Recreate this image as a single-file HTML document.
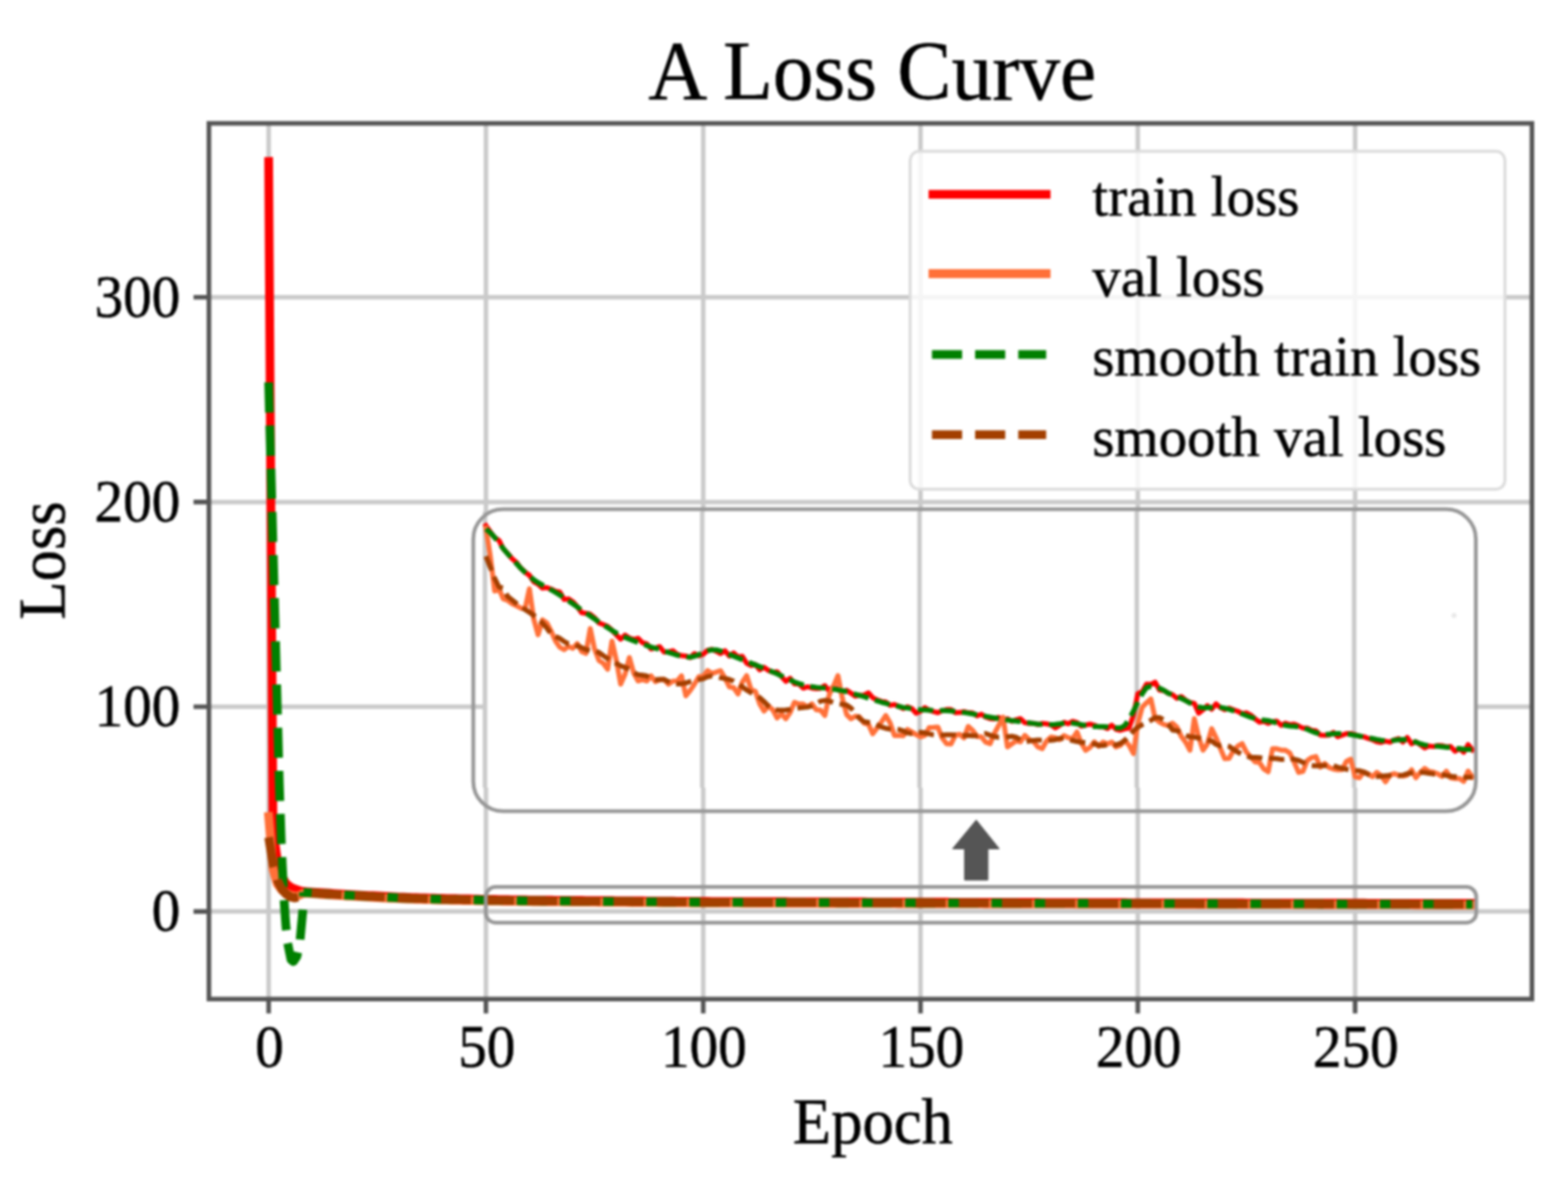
<!DOCTYPE html>
<html><head><meta charset="utf-8"><title>A Loss Curve</title>
<style>html,body{margin:0;padding:0;background:#fff;width:1579px;height:1197px;overflow:hidden}svg{display:block;filter:blur(1.3px)}</style>
</head><body>
<svg width="1579" height="1197" viewBox="0 0 1579 1197"><defs><clipPath id="ax"><rect x="210.4" y="124.2" width="1332.3" height="881.5999999999999"/></clipPath></defs><rect width="1579" height="1197" fill="#fff"/><path d="M270.55,124.2 V1005.8 M489.36,124.2 V1005.8 M708.17,124.2 V1005.8 M926.98,124.2 V1005.8 M1145.79,124.2 V1005.8 M1364.60,124.2 V1005.8 M210.4,917.60 H1542.7 M210.4,711.50 H1542.7 M210.4,505.40 H1542.7 M210.4,299.30 H1542.7" stroke="#cacaca" stroke-width="4.5" fill="none"/><g clip-path="url(#ax)" fill="none" stroke-linejoin="round"><path d="M270.55,162.50 L274.93,836.00 L279.30,866.00 L283.68,882.00 L288.05,889.50 L292.43,893.00 L296.81,895.00 L301.18,896.50 L305.56,897.50 L309.94,897.80 L314.31,898.09 L318.69,898.38 L323.06,898.67 L327.44,898.96 L331.82,899.24 L336.19,899.53 L340.57,899.82 L344.95,900.11 L349.32,900.40 L353.70,900.63 L358.07,900.85 L362.45,901.08 L366.83,901.30 L371.20,901.53 L375.58,901.75 L379.96,901.98 L384.33,902.20 L388.71,902.43 L393.08,902.65 L397.46,902.88 L401.84,903.10 L406.21,903.24 L410.59,903.39 L414.96,903.53 L419.34,903.68 L423.72,903.82 L428.09,903.97 L432.47,904.11 L436.85,904.26 L441.22,904.40 L445.60,904.49 L449.97,904.58 L454.35,904.67 L458.73,904.76 L463.10,904.84 L467.48,904.93 L471.86,905.02 L476.23,905.11 L480.61,905.20 L484.98,905.28 L489.36,905.35 L493.74,905.43 L498.11,905.50 L502.49,905.58 L506.86,905.65 L511.24,905.73 L515.62,905.80 L519.99,905.88 L524.37,905.95 L528.75,906.02 L533.12,906.10 L537.50,906.13 L541.87,906.17 L546.25,906.21 L550.63,906.24 L555.00,906.27 L559.38,906.31 L563.76,906.35 L568.13,906.38 L572.51,906.41 L576.88,906.45 L581.26,906.49 L585.64,906.52 L590.01,906.56 L594.39,906.59 L598.76,906.62 L603.14,906.66 L607.52,906.70 L611.89,906.73 L616.27,906.76 L620.65,906.80 L625.02,906.84 L629.40,906.87 L633.77,906.90 L638.15,906.94 L642.53,906.98 L646.90,907.01 L651.28,907.04 L655.66,907.08 L660.03,907.12 L664.41,907.15 L668.78,907.19 L673.16,907.22 L677.54,907.25 L681.91,907.29 L686.29,907.33 L690.67,907.36 L695.04,907.39 L699.42,907.43 L703.79,907.47 L708.17,907.50 L712.55,907.51 L716.92,907.53 L721.30,907.54 L725.67,907.56 L730.05,907.57 L734.43,907.58 L738.80,907.60 L743.18,907.61 L747.56,907.63 L751.93,907.64 L756.31,907.65 L760.68,907.67 L765.06,907.68 L769.44,907.70 L773.81,907.71 L778.19,907.72 L782.57,907.74 L786.94,907.75 L791.32,907.77 L795.69,907.78 L800.07,907.79 L804.45,907.81 L808.82,907.82 L813.20,907.84 L817.58,907.85 L821.95,907.86 L826.33,907.88 L830.70,907.89 L835.08,907.91 L839.46,907.92 L843.83,907.93 L848.21,907.95 L852.58,907.96 L856.96,907.98 L861.34,907.99 L865.71,908.00 L870.09,908.02 L874.47,908.03 L878.84,908.05 L883.22,908.06 L887.59,908.07 L891.97,908.09 L896.35,908.10 L900.72,908.12 L905.10,908.13 L909.48,908.14 L913.85,908.16 L918.23,908.17 L922.60,908.19 L926.98,908.20 L931.36,908.21 L935.73,908.22 L940.11,908.24 L944.48,908.25 L948.86,908.26 L953.24,908.27 L957.61,908.28 L961.99,908.30 L966.37,908.31 L970.74,908.32 L975.12,908.33 L979.49,908.34 L983.87,908.36 L988.25,908.37 L992.62,908.38 L997.00,908.39 L1001.38,908.40 L1005.75,908.42 L1010.13,908.43 L1014.50,908.44 L1018.88,908.45 L1023.26,908.46 L1027.63,908.48 L1032.01,908.49 L1036.38,908.50 L1040.76,908.51 L1045.14,908.52 L1049.51,908.54 L1053.89,908.55 L1058.27,908.56 L1062.64,908.57 L1067.02,908.58 L1071.39,908.60 L1075.77,908.61 L1080.15,908.62 L1084.52,908.63 L1088.90,908.64 L1093.28,908.66 L1097.65,908.67 L1102.03,908.68 L1106.40,908.69 L1110.78,908.70 L1115.16,908.72 L1119.53,908.73 L1123.91,908.74 L1128.29,908.75 L1132.66,908.76 L1137.04,908.78 L1141.41,908.79 L1145.79,908.80 L1150.17,908.81 L1154.54,908.82 L1158.92,908.83 L1163.29,908.84 L1167.67,908.85 L1172.05,908.85 L1176.42,908.86 L1180.80,908.87 L1185.18,908.88 L1189.55,908.89 L1193.93,908.90 L1198.30,908.91 L1202.68,908.92 L1207.06,908.93 L1211.43,908.94 L1215.81,908.95 L1220.19,908.95 L1224.56,908.96 L1228.94,908.97 L1233.31,908.98 L1237.69,908.99 L1242.07,909.00 L1246.44,909.01 L1250.82,909.02 L1255.19,909.03 L1259.57,909.04 L1263.95,909.05 L1268.32,909.05 L1272.70,909.06 L1277.08,909.07 L1281.45,909.08 L1285.83,909.09 L1290.20,909.10 L1294.58,909.11 L1298.96,909.12 L1303.33,909.13 L1307.71,909.14 L1312.09,909.15 L1316.46,909.15 L1320.84,909.16 L1325.21,909.17 L1329.59,909.18 L1333.97,909.19 L1338.34,909.20 L1342.72,909.21 L1347.10,909.22 L1351.47,909.23 L1355.85,909.24 L1360.22,909.25 L1364.60,909.25 L1368.98,909.26 L1373.35,909.27 L1377.73,909.28 L1382.10,909.29 L1386.48,909.30 L1390.86,909.31 L1395.23,909.32 L1399.61,909.33 L1403.99,909.34 L1408.36,909.35 L1412.74,909.35 L1417.11,909.36 L1421.49,909.37 L1425.87,909.38 L1430.24,909.39 L1434.62,909.40 L1439.00,909.41 L1443.37,909.42 L1447.75,909.43 L1452.12,909.44 L1456.50,909.45 L1460.88,909.45 L1465.25,909.46 L1469.63,909.47 L1474.00,909.48 L1478.38,909.49 L1482.76,909.50" stroke="#ff0000" stroke-width="8.8" stroke-linecap="square"/><path d="M270.55,822.00 L274.93,875.00 L279.30,890.00 L283.68,896.00 L288.05,899.00 L292.43,901.00 L296.81,902.00 L301.18,901.50 L305.56,899.10 L309.94,899.40 L314.31,899.69 L318.69,899.98 L323.06,900.27 L327.44,900.56 L331.82,900.84 L336.19,901.13 L340.57,901.42 L344.95,901.71 L349.32,902.00 L353.70,902.23 L358.07,902.45 L362.45,902.67 L366.83,902.90 L371.20,903.12 L375.58,903.35 L379.96,903.57 L384.33,903.80 L388.71,904.02 L393.08,904.25 L397.46,904.47 L401.84,904.70 L406.21,904.84 L410.59,904.99 L414.96,905.13 L419.34,905.28 L423.72,905.42 L428.09,905.57 L432.47,905.71 L436.85,905.86 L441.22,906.00 L445.60,906.09 L449.97,906.18 L454.35,906.27 L458.73,906.36 L463.10,906.44 L467.48,906.53 L471.86,906.62 L476.23,906.71 L480.61,906.80 L484.98,906.88 L489.36,906.95 L493.74,907.02 L498.11,907.10 L502.49,907.17 L506.86,907.25 L511.24,907.32 L515.62,907.40 L519.99,907.47 L524.37,907.55 L528.75,907.62 L533.12,907.70 L537.50,907.73 L541.87,907.77 L546.25,907.80 L550.63,907.84 L555.00,907.87 L559.38,907.91 L563.76,907.94 L568.13,907.98 L572.51,908.01 L576.88,908.05 L581.26,908.08 L585.64,908.12 L590.01,908.15 L594.39,908.19 L598.76,908.22 L603.14,908.26 L607.52,908.29 L611.89,908.33 L616.27,908.36 L620.65,908.40 L625.02,908.43 L629.40,908.47 L633.77,908.50 L638.15,908.54 L642.53,908.57 L646.90,908.61 L651.28,908.64 L655.66,908.68 L660.03,908.71 L664.41,908.75 L668.78,908.78 L673.16,908.82 L677.54,908.85 L681.91,908.89 L686.29,908.92 L690.67,908.96 L695.04,908.99 L699.42,909.03 L703.79,909.06 L708.17,909.10 L712.55,909.11 L716.92,909.13 L721.30,909.14 L725.67,909.16 L730.05,909.17 L734.43,909.18 L738.80,909.20 L743.18,909.21 L747.56,909.23 L751.93,909.24 L756.31,909.25 L760.68,909.27 L765.06,909.28 L769.44,909.30 L773.81,909.31 L778.19,909.32 L782.57,909.34 L786.94,909.35 L791.32,909.37 L795.69,909.38 L800.07,909.39 L804.45,909.41 L808.82,909.42 L813.20,909.44 L817.58,909.45 L821.95,909.46 L826.33,909.48 L830.70,909.49 L835.08,909.51 L839.46,909.52 L843.83,909.53 L848.21,909.55 L852.58,909.56 L856.96,909.58 L861.34,909.59 L865.71,909.60 L870.09,909.62 L874.47,909.63 L878.84,909.65 L883.22,909.66 L887.59,909.67 L891.97,909.69 L896.35,909.70 L900.72,909.72 L905.10,909.73 L909.48,909.74 L913.85,909.76 L918.23,909.77 L922.60,909.79 L926.98,909.80 L931.36,909.81 L935.73,909.82 L940.11,909.84 L944.48,909.85 L948.86,909.86 L953.24,909.87 L957.61,909.88 L961.99,909.90 L966.37,909.91 L970.74,909.92 L975.12,909.93 L979.49,909.94 L983.87,909.96 L988.25,909.97 L992.62,909.98 L997.00,909.99 L1001.38,910.00 L1005.75,910.02 L1010.13,910.03 L1014.50,910.04 L1018.88,910.05 L1023.26,910.06 L1027.63,910.08 L1032.01,910.09 L1036.38,910.10 L1040.76,910.11 L1045.14,910.12 L1049.51,910.14 L1053.89,910.15 L1058.27,910.16 L1062.64,910.17 L1067.02,910.18 L1071.39,910.20 L1075.77,910.21 L1080.15,910.22 L1084.52,910.23 L1088.90,910.24 L1093.28,910.26 L1097.65,910.27 L1102.03,910.28 L1106.40,910.29 L1110.78,910.30 L1115.16,910.32 L1119.53,910.33 L1123.91,910.34 L1128.29,910.35 L1132.66,910.36 L1137.04,910.38 L1141.41,910.39 L1145.79,910.40 L1150.17,910.41 L1154.54,910.42 L1158.92,910.43 L1163.29,910.44 L1167.67,910.45 L1172.05,910.45 L1176.42,910.46 L1180.80,910.47 L1185.18,910.48 L1189.55,910.49 L1193.93,910.50 L1198.30,910.51 L1202.68,910.52 L1207.06,910.53 L1211.43,910.54 L1215.81,910.55 L1220.19,910.55 L1224.56,910.56 L1228.94,910.57 L1233.31,910.58 L1237.69,910.59 L1242.07,910.60 L1246.44,910.61 L1250.82,910.62 L1255.19,910.63 L1259.57,910.64 L1263.95,910.65 L1268.32,910.65 L1272.70,910.66 L1277.08,910.67 L1281.45,910.68 L1285.83,910.69 L1290.20,910.70 L1294.58,910.71 L1298.96,910.72 L1303.33,910.73 L1307.71,910.74 L1312.09,910.75 L1316.46,910.75 L1320.84,910.76 L1325.21,910.77 L1329.59,910.78 L1333.97,910.79 L1338.34,910.80 L1342.72,910.81 L1347.10,910.82 L1351.47,910.83 L1355.85,910.84 L1360.22,910.85 L1364.60,910.85 L1368.98,910.86 L1373.35,910.87 L1377.73,910.88 L1382.10,910.89 L1386.48,910.90 L1390.86,910.91 L1395.23,910.92 L1399.61,910.93 L1403.99,910.94 L1408.36,910.95 L1412.74,910.95 L1417.11,910.96 L1421.49,910.97 L1425.87,910.98 L1430.24,910.99 L1434.62,911.00 L1439.00,911.01 L1443.37,911.02 L1447.75,911.03 L1452.12,911.04 L1456.50,911.05 L1460.88,911.05 L1465.25,911.06 L1469.63,911.07 L1474.00,911.08 L1478.38,911.09 L1482.76,911.10" stroke="#ff7038" stroke-width="8.8" stroke-linecap="square"/><path d="M270.55,385.00 L281.30,790.00 L283.10,844.00 L284.20,870.00 L286.00,905.00 L287.80,931.00 L289.60,949.00 L293.00,966.00 L295.50,968.00 L298.90,963.00 L301.50,952.00 L302.40,944.00 L304.80,918.00 L305.60,903.00 L305.56,898.30" stroke="#008000" stroke-width="8.8" stroke-dasharray="30.34,13.12"/><path d="M305.56,898.30 L309.94,898.60 L314.31,898.89 L318.69,899.18 L323.06,899.47 L327.44,899.76 L331.82,900.04 L336.19,900.33 L340.57,900.62 L344.95,900.91 L349.32,901.20 L353.70,901.43 L358.07,901.65 L362.45,901.88 L366.83,902.10 L371.20,902.33 L375.58,902.55 L379.96,902.77 L384.33,903.00 L388.71,903.23 L393.08,903.45 L397.46,903.67 L401.84,903.90 L406.21,904.04 L410.59,904.19 L414.96,904.33 L419.34,904.48 L423.72,904.62 L428.09,904.77 L432.47,904.91 L436.85,905.06 L441.22,905.20 L445.60,905.29 L449.97,905.38 L454.35,905.47 L458.73,905.56 L463.10,905.64 L467.48,905.73 L471.86,905.82 L476.23,905.91 L480.61,906.00 L484.98,906.08 L489.36,906.15 L493.74,906.23 L498.11,906.30 L502.49,906.38 L506.86,906.45 L511.24,906.52 L515.62,906.60 L519.99,906.67 L524.37,906.75 L528.75,906.82 L533.12,906.90 L537.50,906.93 L541.87,906.97 L546.25,907.00 L550.63,907.04 L555.00,907.07 L559.38,907.11 L563.76,907.14 L568.13,907.18 L572.51,907.21 L576.88,907.25 L581.26,907.28 L585.64,907.32 L590.01,907.36 L594.39,907.39 L598.76,907.42 L603.14,907.46 L607.52,907.50 L611.89,907.53 L616.27,907.56 L620.65,907.60 L625.02,907.63 L629.40,907.67 L633.77,907.70 L638.15,907.74 L642.53,907.77 L646.90,907.81 L651.28,907.84 L655.66,907.88 L660.03,907.91 L664.41,907.95 L668.78,907.99 L673.16,908.02 L677.54,908.05 L681.91,908.09 L686.29,908.12 L690.67,908.16 L695.04,908.19 L699.42,908.23 L703.79,908.26 L708.17,908.30 L712.55,908.31 L716.92,908.33 L721.30,908.34 L725.67,908.36 L730.05,908.37 L734.43,908.38 L738.80,908.40 L743.18,908.41 L747.56,908.43 L751.93,908.44 L756.31,908.45 L760.68,908.47 L765.06,908.48 L769.44,908.50 L773.81,908.51 L778.19,908.52 L782.57,908.54 L786.94,908.55 L791.32,908.57 L795.69,908.58 L800.07,908.59 L804.45,908.61 L808.82,908.62 L813.20,908.64 L817.58,908.65 L821.95,908.66 L826.33,908.68 L830.70,908.69 L835.08,908.71 L839.46,908.72 L843.83,908.73 L848.21,908.75 L852.58,908.76 L856.96,908.78 L861.34,908.79 L865.71,908.80 L870.09,908.82 L874.47,908.83 L878.84,908.85 L883.22,908.86 L887.59,908.87 L891.97,908.89 L896.35,908.90 L900.72,908.92 L905.10,908.93 L909.48,908.94 L913.85,908.96 L918.23,908.97 L922.60,908.99 L926.98,909.00 L931.36,909.01 L935.73,909.02 L940.11,909.04 L944.48,909.05 L948.86,909.06 L953.24,909.07 L957.61,909.08 L961.99,909.10 L966.37,909.11 L970.74,909.12 L975.12,909.13 L979.49,909.14 L983.87,909.16 L988.25,909.17 L992.62,909.18 L997.00,909.19 L1001.38,909.20 L1005.75,909.22 L1010.13,909.23 L1014.50,909.24 L1018.88,909.25 L1023.26,909.26 L1027.63,909.28 L1032.01,909.29 L1036.38,909.30 L1040.76,909.31 L1045.14,909.32 L1049.51,909.34 L1053.89,909.35 L1058.27,909.36 L1062.64,909.37 L1067.02,909.38 L1071.39,909.40 L1075.77,909.41 L1080.15,909.42 L1084.52,909.43 L1088.90,909.44 L1093.28,909.46 L1097.65,909.47 L1102.03,909.48 L1106.40,909.49 L1110.78,909.50 L1115.16,909.52 L1119.53,909.53 L1123.91,909.54 L1128.29,909.55 L1132.66,909.56 L1137.04,909.58 L1141.41,909.59 L1145.79,909.60 L1150.17,909.61 L1154.54,909.62 L1158.92,909.63 L1163.29,909.64 L1167.67,909.65 L1172.05,909.65 L1176.42,909.66 L1180.80,909.67 L1185.18,909.68 L1189.55,909.69 L1193.93,909.70 L1198.30,909.71 L1202.68,909.72 L1207.06,909.73 L1211.43,909.74 L1215.81,909.75 L1220.19,909.75 L1224.56,909.76 L1228.94,909.77 L1233.31,909.78 L1237.69,909.79 L1242.07,909.80 L1246.44,909.81 L1250.82,909.82 L1255.19,909.83 L1259.57,909.84 L1263.95,909.85 L1268.32,909.85 L1272.70,909.86 L1277.08,909.87 L1281.45,909.88 L1285.83,909.89 L1290.20,909.90 L1294.58,909.91 L1298.96,909.92 L1303.33,909.93 L1307.71,909.94 L1312.09,909.95 L1316.46,909.95 L1320.84,909.96 L1325.21,909.97 L1329.59,909.98 L1333.97,909.99 L1338.34,910.00 L1342.72,910.01 L1347.10,910.02 L1351.47,910.03 L1355.85,910.04 L1360.22,910.05 L1364.60,910.05 L1368.98,910.06 L1373.35,910.07 L1377.73,910.08 L1382.10,910.09 L1386.48,910.10 L1390.86,910.11 L1395.23,910.12 L1399.61,910.13 L1403.99,910.14 L1408.36,910.15 L1412.74,910.15 L1417.11,910.16 L1421.49,910.17 L1425.87,910.18 L1430.24,910.19 L1434.62,910.20 L1439.00,910.21 L1443.37,910.22 L1447.75,910.23 L1452.12,910.24 L1456.50,910.25 L1460.88,910.25 L1465.25,910.26 L1469.63,910.27 L1474.00,910.28 L1478.38,910.29 L1482.76,910.30" stroke="#008000" stroke-width="8.8" stroke-dasharray="30.34,13.12" stroke-dashoffset="2.3"/><path d="M270.55,843.00 L274.93,870.00 L279.30,886.00 L283.68,895.00 L288.05,900.00 L292.43,903.00 L296.81,904.00 L301.18,903.00 L305.56,898.30" stroke="#a33f00" stroke-width="8.8" stroke-dasharray="30.34,13.12"/><path d="M305.56,898.30 L309.94,898.60 L314.31,898.89 L318.69,899.18 L323.06,899.47 L327.44,899.76 L331.82,900.04 L336.19,900.33 L340.57,900.62 L344.95,900.91 L349.32,901.20 L353.70,901.43 L358.07,901.65 L362.45,901.88 L366.83,902.10 L371.20,902.33 L375.58,902.55 L379.96,902.77 L384.33,903.00 L388.71,903.23 L393.08,903.45 L397.46,903.67 L401.84,903.90 L406.21,904.04 L410.59,904.19 L414.96,904.33 L419.34,904.48 L423.72,904.62 L428.09,904.77 L432.47,904.91 L436.85,905.06 L441.22,905.20 L445.60,905.29 L449.97,905.38 L454.35,905.47 L458.73,905.56 L463.10,905.64 L467.48,905.73 L471.86,905.82 L476.23,905.91 L480.61,906.00 L484.98,906.08 L489.36,906.15 L493.74,906.23 L498.11,906.30 L502.49,906.38 L506.86,906.45 L511.24,906.52 L515.62,906.60 L519.99,906.67 L524.37,906.75 L528.75,906.82 L533.12,906.90 L537.50,906.93 L541.87,906.97 L546.25,907.00 L550.63,907.04 L555.00,907.07 L559.38,907.11 L563.76,907.14 L568.13,907.18 L572.51,907.21 L576.88,907.25 L581.26,907.28 L585.64,907.32 L590.01,907.36 L594.39,907.39 L598.76,907.42 L603.14,907.46 L607.52,907.50 L611.89,907.53 L616.27,907.56 L620.65,907.60 L625.02,907.63 L629.40,907.67 L633.77,907.70 L638.15,907.74 L642.53,907.77 L646.90,907.81 L651.28,907.84 L655.66,907.88 L660.03,907.91 L664.41,907.95 L668.78,907.99 L673.16,908.02 L677.54,908.05 L681.91,908.09 L686.29,908.12 L690.67,908.16 L695.04,908.19 L699.42,908.23 L703.79,908.26 L708.17,908.30 L712.55,908.31 L716.92,908.33 L721.30,908.34 L725.67,908.36 L730.05,908.37 L734.43,908.38 L738.80,908.40 L743.18,908.41 L747.56,908.43 L751.93,908.44 L756.31,908.45 L760.68,908.47 L765.06,908.48 L769.44,908.50 L773.81,908.51 L778.19,908.52 L782.57,908.54 L786.94,908.55 L791.32,908.57 L795.69,908.58 L800.07,908.59 L804.45,908.61 L808.82,908.62 L813.20,908.64 L817.58,908.65 L821.95,908.66 L826.33,908.68 L830.70,908.69 L835.08,908.71 L839.46,908.72 L843.83,908.73 L848.21,908.75 L852.58,908.76 L856.96,908.78 L861.34,908.79 L865.71,908.80 L870.09,908.82 L874.47,908.83 L878.84,908.85 L883.22,908.86 L887.59,908.87 L891.97,908.89 L896.35,908.90 L900.72,908.92 L905.10,908.93 L909.48,908.94 L913.85,908.96 L918.23,908.97 L922.60,908.99 L926.98,909.00 L931.36,909.01 L935.73,909.02 L940.11,909.04 L944.48,909.05 L948.86,909.06 L953.24,909.07 L957.61,909.08 L961.99,909.10 L966.37,909.11 L970.74,909.12 L975.12,909.13 L979.49,909.14 L983.87,909.16 L988.25,909.17 L992.62,909.18 L997.00,909.19 L1001.38,909.20 L1005.75,909.22 L1010.13,909.23 L1014.50,909.24 L1018.88,909.25 L1023.26,909.26 L1027.63,909.28 L1032.01,909.29 L1036.38,909.30 L1040.76,909.31 L1045.14,909.32 L1049.51,909.34 L1053.89,909.35 L1058.27,909.36 L1062.64,909.37 L1067.02,909.38 L1071.39,909.40 L1075.77,909.41 L1080.15,909.42 L1084.52,909.43 L1088.90,909.44 L1093.28,909.46 L1097.65,909.47 L1102.03,909.48 L1106.40,909.49 L1110.78,909.50 L1115.16,909.52 L1119.53,909.53 L1123.91,909.54 L1128.29,909.55 L1132.66,909.56 L1137.04,909.58 L1141.41,909.59 L1145.79,909.60 L1150.17,909.61 L1154.54,909.62 L1158.92,909.63 L1163.29,909.64 L1167.67,909.65 L1172.05,909.65 L1176.42,909.66 L1180.80,909.67 L1185.18,909.68 L1189.55,909.69 L1193.93,909.70 L1198.30,909.71 L1202.68,909.72 L1207.06,909.73 L1211.43,909.74 L1215.81,909.75 L1220.19,909.75 L1224.56,909.76 L1228.94,909.77 L1233.31,909.78 L1237.69,909.79 L1242.07,909.80 L1246.44,909.81 L1250.82,909.82 L1255.19,909.83 L1259.57,909.84 L1263.95,909.85 L1268.32,909.85 L1272.70,909.86 L1277.08,909.87 L1281.45,909.88 L1285.83,909.89 L1290.20,909.90 L1294.58,909.91 L1298.96,909.92 L1303.33,909.93 L1307.71,909.94 L1312.09,909.95 L1316.46,909.95 L1320.84,909.96 L1325.21,909.97 L1329.59,909.98 L1333.97,909.99 L1338.34,910.00 L1342.72,910.01 L1347.10,910.02 L1351.47,910.03 L1355.85,910.04 L1360.22,910.05 L1364.60,910.05 L1368.98,910.06 L1373.35,910.07 L1377.73,910.08 L1382.10,910.09 L1386.48,910.10 L1390.86,910.11 L1395.23,910.12 L1399.61,910.13 L1403.99,910.14 L1408.36,910.15 L1412.74,910.15 L1417.11,910.16 L1421.49,910.17 L1425.87,910.18 L1430.24,910.19 L1434.62,910.20 L1439.00,910.21 L1443.37,910.22 L1447.75,910.23 L1452.12,910.24 L1456.50,910.25 L1460.88,910.25 L1465.25,910.26 L1469.63,910.27 L1474.00,910.28 L1478.38,910.29 L1482.76,910.30" stroke="#a33f00" stroke-width="8.8" stroke-dasharray="30.34,13.12" stroke-dashoffset="35.2"/></g><rect x="489.2" y="892.9" width="997.3999999999999" height="36.0" rx="10" ry="10" fill="none" stroke="#979797" stroke-width="3.8"/><rect x="489.4" y="515" width="997.6" height="278" fill="#fff"/><path d="M488.36,515 V793 M707.17,515 V793 M925.98,515 V793 M1144.79,515 V793 M1363.60,515 V793" stroke="#cacaca" stroke-width="4.5" fill="none"/><g fill="none" stroke-linejoin="round"><path d="M489.36,529.20 L493.74,535.42 L498.11,541.16 L502.49,544.00 L506.86,552.52 L511.24,557.13 L515.62,562.36 L519.99,566.13 L524.37,571.92 L528.75,575.89 L533.12,579.13 L537.50,585.71 L541.87,588.13 L546.25,592.05 L550.63,591.49 L555.00,593.10 L559.38,595.28 L563.76,595.93 L568.13,603.54 L572.51,602.86 L576.88,605.77 L581.26,610.60 L585.64,616.71 L590.01,617.53 L594.39,618.33 L598.76,621.90 L603.14,627.23 L607.52,628.74 L611.89,630.57 L616.27,634.46 L620.65,639.14 L625.02,643.47 L629.40,639.42 L633.77,642.28 L638.15,643.71 L642.53,642.56 L646.90,647.00 L651.28,648.12 L655.66,653.28 L660.03,652.32 L664.41,650.95 L668.78,656.48 L673.16,656.12 L677.54,655.07 L681.91,658.58 L686.29,660.04 L690.67,660.43 L695.04,662.05 L699.42,657.95 L703.79,660.22 L708.17,658.74 L712.55,654.66 L716.92,653.78 L721.30,655.58 L725.67,658.03 L730.05,655.12 L734.43,660.43 L738.80,657.30 L743.18,661.31 L747.56,660.69 L751.93,667.77 L756.31,670.03 L760.68,669.02 L765.06,674.33 L769.44,671.69 L773.81,674.93 L778.19,676.70 L782.57,676.27 L786.94,681.06 L791.32,685.95 L795.69,682.80 L800.07,688.45 L804.45,688.49 L808.82,692.85 L813.20,691.43 L817.58,692.66 L821.95,693.28 L826.33,692.89 L830.70,690.25 L835.08,695.59 L839.46,690.95 L843.83,694.52 L848.21,696.37 L852.58,694.93 L856.96,697.87 L861.34,700.88 L865.71,699.91 L870.09,699.72 L874.47,697.51 L878.84,702.45 L883.22,704.58 L887.59,706.15 L891.97,706.80 L896.35,710.12 L900.72,709.30 L905.10,711.02 L909.48,713.33 L913.85,711.46 L918.23,713.23 L922.60,717.98 L926.98,715.99 L931.36,712.41 L935.73,714.92 L940.11,716.32 L944.48,717.52 L948.86,715.57 L953.24,714.34 L957.61,714.33 L961.99,717.38 L966.37,717.36 L970.74,716.45 L975.12,717.62 L979.49,717.78 L983.87,720.67 L988.25,718.99 L992.62,721.98 L997.00,723.51 L1001.38,723.72 L1005.75,722.17 L1010.13,726.69 L1014.50,723.64 L1018.88,726.22 L1023.26,724.69 L1027.63,723.50 L1032.01,727.63 L1036.38,728.32 L1040.76,728.24 L1045.14,729.45 L1049.51,728.36 L1053.89,728.77 L1058.27,729.62 L1062.64,732.78 L1067.02,730.23 L1071.39,727.25 L1075.77,728.62 L1080.15,726.17 L1084.52,727.41 L1088.90,731.09 L1093.28,729.91 L1097.65,728.96 L1102.03,730.16 L1106.40,731.78 L1110.78,731.67 L1115.16,733.49 L1119.53,730.04 L1123.91,734.21 L1128.29,735.24 L1132.66,733.79 L1137.04,732.93 L1141.41,719.89 L1145.79,698.41 L1150.17,696.47 L1154.54,688.67 L1158.92,688.97 L1163.29,686.85 L1167.67,694.74 L1172.05,695.19 L1176.42,697.98 L1180.80,699.35 L1185.18,702.95 L1189.55,701.27 L1193.93,704.98 L1198.30,707.17 L1202.68,708.08 L1207.06,718.02 L1211.43,714.61 L1215.81,710.42 L1220.19,713.98 L1224.56,708.56 L1228.94,712.35 L1233.31,714.42 L1237.69,712.89 L1242.07,714.49 L1246.44,716.04 L1250.82,718.52 L1255.19,717.58 L1259.57,720.02 L1263.95,723.73 L1268.32,727.07 L1272.70,726.34 L1277.08,728.31 L1281.45,726.45 L1285.83,726.00 L1290.20,730.23 L1294.58,728.00 L1298.96,729.51 L1303.33,728.98 L1307.71,730.89 L1312.09,733.11 L1316.46,733.12 L1320.84,735.26 L1325.21,735.72 L1329.59,739.98 L1333.97,740.15 L1338.34,740.01 L1342.72,737.29 L1347.10,741.78 L1351.47,740.10 L1355.85,738.53 L1360.22,738.51 L1364.60,739.63 L1368.98,741.24 L1373.35,741.69 L1377.73,743.34 L1382.10,744.72 L1386.48,746.80 L1390.86,747.42 L1395.23,746.16 L1399.61,747.17 L1403.99,744.84 L1408.36,743.54 L1412.74,747.10 L1417.11,742.45 L1421.49,748.87 L1425.87,746.67 L1430.24,749.77 L1434.62,752.86 L1439.00,750.94 L1443.37,751.61 L1447.75,750.57 L1452.12,750.73 L1456.50,751.88 L1460.88,751.59 L1465.25,756.29 L1469.63,753.50 L1474.00,757.26 L1478.38,749.68 L1482.76,754.90" stroke="#ff0000" stroke-width="5.0" stroke-linecap="square"/><path d="M489.36,531.70 L493.74,560.00 L498.11,595.00 L502.49,592.86 L506.86,603.00 L511.24,604.50 L515.62,607.70 L519.99,609.72 L524.37,612.18 L528.75,612.70 L533.12,592.70 L537.50,623.28 L541.87,639.00 L546.25,624.00 L550.63,626.96 L555.00,635.30 L559.38,645.30 L563.76,651.65 L568.13,654.00 L572.51,650.79 L576.88,652.70 L581.26,647.80 L585.64,655.86 L590.01,657.80 L594.39,632.80 L598.76,653.70 L603.14,664.82 L607.52,667.81 L611.89,673.80 L616.27,645.40 L620.65,664.50 L625.02,688.80 L629.40,678.86 L633.77,662.00 L638.15,677.49 L642.53,685.50 L646.90,684.14 L651.28,685.55 L655.66,680.50 L660.03,686.15 L664.41,684.36 L668.78,683.98 L673.16,688.80 L677.54,685.66 L681.91,685.53 L686.29,680.50 L690.67,700.50 L695.04,695.18 L699.42,688.60 L703.79,681.17 L708.17,680.80 L712.55,675.20 L716.92,678.03 L721.30,676.59 L725.67,675.20 L730.05,682.55 L734.43,691.47 L738.80,692.23 L743.18,698.60 L747.56,686.69 L751.93,680.20 L756.31,694.21 L760.68,696.09 L765.06,708.60 L769.44,715.84 L773.81,710.90 L778.19,714.51 L782.57,722.77 L786.94,718.72 L791.32,723.70 L795.69,717.34 L800.07,707.00 L804.45,708.80 L808.82,708.69 L813.20,711.69 L817.58,708.60 L821.95,714.47 L826.33,714.97 L830.70,720.30 L835.08,699.16 L839.46,690.78 L843.83,680.20 L848.21,702.64 L852.58,719.36 L856.96,723.70 L861.34,721.05 L865.71,722.00 L870.09,727.98 L874.47,728.99 L878.84,738.70 L883.22,733.07 L887.59,726.89 L891.97,720.30 L896.35,727.72 L900.72,740.40 L905.10,740.19 L909.48,740.83 L913.85,734.42 L918.23,737.00 L922.60,739.51 L926.98,741.79 L931.36,740.30 L935.73,732.49 L940.11,732.36 L944.48,732.00 L948.86,743.08 L953.24,748.70 L957.61,749.11 L961.99,740.30 L966.37,739.22 L970.74,742.89 L975.12,731.24 L979.49,735.30 L983.87,741.47 L988.25,741.72 L992.62,747.09 L997.00,748.70 L1001.38,738.25 L1005.75,730.27 L1010.13,722.00 L1014.50,752.00 L1018.88,748.87 L1023.26,745.72 L1027.63,746.93 L1032.01,740.30 L1036.38,744.61 L1040.76,746.53 L1045.14,752.00 L1049.51,753.80 L1053.89,746.09 L1058.27,742.00 L1062.64,742.81 L1067.02,744.72 L1071.39,740.46 L1075.77,742.68 L1080.15,743.70 L1084.52,737.00 L1088.90,748.19 L1093.28,755.40 L1097.65,752.46 L1102.03,746.83 L1106.40,751.32 L1110.78,747.00 L1115.16,749.10 L1119.53,747.00 L1123.91,752.00 L1128.29,750.44 L1132.66,745.40 L1137.04,750.34 L1141.41,758.70 L1145.79,728.60 L1150.17,712.00 L1154.54,707.57 L1158.92,703.60 L1163.29,723.60 L1167.67,727.00 L1172.05,729.38 L1176.42,730.46 L1180.80,728.05 L1185.18,732.00 L1189.55,741.32 L1193.93,747.17 L1198.30,755.30 L1202.68,723.60 L1207.06,741.96 L1211.43,755.30 L1215.81,748.96 L1220.19,733.60 L1224.56,742.54 L1228.94,753.53 L1233.31,763.70 L1237.69,763.60 L1242.07,755.85 L1246.44,751.19 L1250.82,748.60 L1255.19,757.14 L1259.57,762.05 L1263.95,767.00 L1268.32,767.51 L1272.70,774.14 L1277.08,777.00 L1281.45,753.70 L1285.83,753.82 L1290.20,755.19 L1294.58,755.30 L1298.96,758.20 L1303.33,767.39 L1307.71,777.60 L1312.09,776.50 L1316.46,765.67 L1320.84,762.69 L1325.21,761.60 L1329.59,772.30 L1333.97,768.60 L1338.34,772.62 L1342.72,774.25 L1347.10,775.00 L1351.47,774.82 L1355.85,766.51 L1360.22,764.30 L1364.60,782.01 L1368.98,783.00 L1373.35,777.11 L1377.73,779.08 L1382.10,781.91 L1386.48,777.60 L1390.86,780.75 L1395.23,787.00 L1399.61,780.45 L1403.99,778.86 L1408.36,780.30 L1412.74,781.31 L1417.11,780.24 L1421.49,775.00 L1425.87,783.00 L1430.24,777.51 L1434.62,773.60 L1439.00,776.67 L1443.37,777.19 L1447.75,779.00 L1452.12,781.60 L1456.50,776.46 L1460.88,783.00 L1465.25,783.66 L1469.63,783.63 L1474.00,786.67 L1478.38,776.31 L1482.76,782.30" stroke="#ff7038" stroke-width="5.0" stroke-linecap="square"/><path d="M489.36,532.64 L493.74,536.27 L498.11,541.04 L502.49,546.75 L506.86,552.33 L511.24,557.58 L515.62,562.51 L519.99,567.26 L524.37,572.00 L528.75,576.32 L533.12,580.18 L537.50,583.57 L541.87,586.51 L546.25,588.97 L550.63,591.40 L555.00,593.83 L559.38,596.39 L563.76,599.08 L568.13,601.90 L572.51,604.84 L576.88,607.91 L581.26,610.97 L585.64,614.04 L590.01,617.09 L594.39,620.12 L598.76,623.12 L603.14,626.09 L607.52,629.03 L611.89,631.95 L616.27,634.71 L620.65,637.24 L625.02,639.53 L629.40,641.59 L633.77,643.41 L638.15,645.16 L642.53,646.82 L646.90,648.39 L651.28,649.87 L655.66,651.26 L660.03,652.59 L664.41,653.95 L668.78,655.34 L673.16,656.76 L677.54,658.21 L681.91,659.55 L686.29,660.59 L690.67,661.35 L695.04,661.56 L699.42,660.72 L703.79,658.95 L708.17,656.91 L712.55,655.22 L716.92,654.15 L721.30,654.19 L725.67,655.35 L730.05,657.12 L734.43,658.89 L738.80,660.65 L743.18,662.40 L747.56,664.14 L751.93,665.89 L756.31,667.63 L760.68,669.39 L765.06,671.14 L769.44,672.90 L773.81,674.66 L778.19,676.49 L782.57,678.40 L786.94,680.40 L791.32,682.48 L795.69,684.60 L800.07,686.48 L804.45,688.09 L808.82,689.45 L813.20,690.51 L817.58,691.25 L821.95,691.87 L826.33,692.37 L830.70,692.77 L835.08,693.16 L839.46,693.72 L843.83,694.46 L848.21,695.36 L852.58,696.44 L856.96,697.61 L861.34,698.82 L865.71,700.08 L870.09,701.40 L874.47,702.77 L878.84,704.20 L883.22,705.64 L887.59,706.98 L891.97,708.20 L896.35,709.32 L900.72,710.33 L905.10,711.22 L909.48,712.09 L913.85,712.84 L918.23,713.48 L922.60,714.00 L926.98,714.41 L931.36,714.72 L935.73,714.96 L940.11,715.14 L944.48,715.25 L948.86,715.37 L953.24,715.55 L957.61,715.85 L961.99,716.27 L966.37,716.80 L970.74,717.38 L975.12,718.01 L979.49,718.69 L983.87,719.44 L988.25,720.24 L992.62,721.10 L997.00,721.97 L1001.38,722.77 L1005.75,723.52 L1010.13,724.22 L1014.50,724.86 L1018.88,725.45 L1023.26,726.04 L1027.63,726.63 L1032.01,727.22 L1036.38,727.80 L1040.76,728.38 L1045.14,728.95 L1049.51,729.38 L1053.89,729.57 L1058.27,729.53 L1062.64,729.26 L1067.02,728.77 L1071.39,728.19 L1075.77,727.97 L1080.15,728.12 L1084.52,728.66 L1088.90,729.53 L1093.28,730.48 L1097.65,731.16 L1102.03,731.54 L1106.40,731.62 L1110.78,731.49 L1115.16,731.71 L1119.53,732.28 L1123.91,732.80 L1128.29,732.83 L1132.66,730.37 L1137.04,723.78 L1141.41,715.80 L1145.79,707.16 L1150.17,698.65 L1154.54,692.22 L1158.92,691.02 L1163.29,691.41 L1167.67,692.84 L1172.05,694.99 L1176.42,697.85 L1180.80,699.60 L1185.18,701.27 L1189.55,703.19 L1193.93,705.35 L1198.30,707.76 L1202.68,710.17 L1207.06,711.82 L1211.43,712.58 L1215.81,712.59 L1220.19,712.29 L1224.56,711.91 L1228.94,712.11 L1233.31,712.87 L1237.69,714.18 L1242.07,715.59 L1246.44,717.12 L1250.82,718.75 L1255.19,720.50 L1259.57,722.13 L1263.95,723.42 L1268.32,724.36 L1272.70,724.96 L1277.08,725.54 L1281.45,726.59 L1285.83,727.88 L1290.20,729.09 L1294.58,730.22 L1298.96,730.91 L1303.33,731.21 L1307.71,731.71 L1312.09,732.72 L1316.46,734.26 L1320.84,736.22 L1325.21,737.77 L1329.59,738.79 L1333.97,739.27 L1338.34,739.21 L1342.72,738.75 L1347.10,738.55 L1351.47,738.60 L1355.85,738.91 L1360.22,739.46 L1364.60,740.21 L1368.98,740.97 L1373.35,741.74 L1377.73,742.57 L1382.10,743.45 L1386.48,744.37 L1390.86,745.17 L1395.23,745.61 L1399.61,745.66 L1403.99,745.32 L1408.36,744.71 L1412.74,744.47 L1417.11,744.82 L1421.49,745.77 L1425.87,747.21 L1430.24,748.74 L1434.62,749.86 L1439.00,750.60 L1443.37,751.06 L1447.75,751.31 L1452.12,751.69 L1456.50,752.18 L1460.88,752.74 L1465.25,753.25 L1469.63,753.72 L1474.00,754.14 L1478.38,754.44 L1482.76,754.65" stroke="#008000" stroke-width="5.0" stroke-dasharray="15.5,6.7"/><path d="M489.36,560.00 L493.74,571.00 L498.11,582.00 L502.49,591.00 L506.86,592.09 L511.24,600.51 L515.62,603.88 L519.99,607.44 L524.37,611.17 L528.75,613.59 L533.12,616.37 L537.50,619.52 L541.87,623.20 L546.25,627.25 L550.63,632.19 L555.00,638.12 L559.38,640.93 L563.76,642.67 L568.13,645.84 L572.51,648.25 L576.88,648.61 L581.26,650.20 L585.64,651.91 L590.01,653.86 L594.39,655.28 L598.76,655.14 L603.14,656.92 L607.52,659.97 L611.89,663.00 L616.27,665.62 L620.65,667.94 L625.02,670.38 L629.40,671.92 L633.77,673.77 L638.15,677.31 L642.53,679.28 L646.90,679.68 L651.28,680.55 L655.66,683.44 L660.03,684.35 L664.41,684.12 L668.78,684.11 L673.16,686.16 L677.54,687.75 L681.91,688.48 L686.29,688.40 L690.67,687.52 L695.04,686.08 L699.42,684.95 L703.79,684.11 L708.17,683.32 L712.55,681.30 L716.92,680.57 L721.30,681.14 L725.67,682.39 L730.05,683.10 L734.43,684.02 L738.80,685.75 L743.18,688.30 L747.56,691.57 L751.93,694.68 L756.31,697.42 L760.68,699.81 L765.06,702.39 L769.44,706.37 L773.81,710.68 L778.19,713.48 L782.57,714.77 L786.94,714.97 L791.32,714.69 L795.69,714.15 L800.07,713.39 L804.45,712.75 L808.82,712.22 L813.20,711.88 L817.58,710.56 L821.95,708.26 L826.33,705.91 L830.70,705.09 L835.08,705.80 L839.46,707.40 L843.83,708.50 L848.21,709.10 L852.58,709.83 L856.96,712.84 L861.34,718.14 L865.71,723.50 L870.09,726.52 L874.47,727.20 L878.84,727.95 L883.22,729.90 L887.59,731.82 L891.97,733.24 L896.35,733.96 L900.72,734.03 L905.10,734.47 L909.48,735.80 L913.85,737.89 L918.23,738.61 L922.60,737.91 L926.98,737.32 L931.36,737.81 L935.73,738.91 L940.11,739.71 L944.48,740.03 L948.86,740.01 L953.24,739.83 L957.61,739.80 L961.99,740.02 L966.37,740.58 L970.74,740.51 L975.12,740.29 L979.49,740.73 L983.87,740.42 L988.25,739.22 L992.62,738.47 L997.00,740.13 L1001.38,741.50 L1005.75,742.17 L1010.13,742.14 L1014.50,741.69 L1018.88,741.25 L1023.26,742.27 L1027.63,744.74 L1032.01,746.77 L1036.38,746.08 L1040.76,745.39 L1045.14,745.07 L1049.51,745.13 L1053.89,745.31 L1058.27,745.17 L1062.64,744.73 L1067.02,743.39 L1071.39,743.26 L1075.77,744.34 L1080.15,745.54 L1084.52,746.48 L1088.90,747.16 L1093.28,747.61 L1097.65,748.21 L1102.03,748.95 L1106.40,750.44 L1110.78,750.53 L1115.16,749.57 L1119.53,749.43 L1123.91,749.90 L1128.29,748.40 L1132.66,745.22 L1137.04,740.80 L1141.41,735.61 L1145.79,732.14 L1150.17,729.59 L1154.54,727.57 L1158.92,725.12 L1163.29,722.46 L1167.67,722.39 L1172.05,724.94 L1176.42,729.31 L1180.80,735.01 L1185.18,735.63 L1189.55,737.21 L1193.93,740.10 L1198.30,741.81 L1202.68,742.09 L1207.06,742.94 L1211.43,744.01 L1215.81,745.31 L1220.19,746.00 L1224.56,749.38 L1228.94,750.74 L1233.31,750.20 L1237.69,751.35 L1242.07,754.43 L1246.44,757.19 L1250.82,759.34 L1255.19,760.88 L1259.57,762.59 L1263.95,762.53 L1268.32,762.72 L1272.70,763.31 L1277.08,763.30 L1281.45,763.41 L1285.83,763.83 L1290.20,764.52 L1294.58,764.39 L1298.96,763.49 L1303.33,764.41 L1307.71,765.50 L1312.09,767.47 L1316.46,769.44 L1320.84,770.71 L1325.21,771.09 L1329.59,770.87 L1333.97,770.67 L1338.34,770.49 L1342.72,770.84 L1347.10,772.38 L1351.47,773.50 L1355.85,774.41 L1360.22,775.12 L1364.60,775.62 L1368.98,775.95 L1373.35,777.32 L1377.73,779.46 L1382.10,781.28 L1386.48,781.72 L1390.86,781.42 L1395.23,781.06 L1399.61,780.64 L1403.99,780.41 L1408.36,780.97 L1412.74,780.36 L1417.11,779.01 L1421.49,778.09 L1425.87,777.61 L1430.24,777.55 L1434.62,777.83 L1439.00,778.45 L1443.37,779.14 L1447.75,779.15 L1452.12,779.71 L1456.50,780.67 L1460.88,781.41 L1465.25,781.94 L1469.63,782.29 L1474.00,782.48 L1478.38,782.54 L1482.76,782.46" stroke="#a33f00" stroke-width="5.0" stroke-dasharray="15.5,6.7"/></g><rect x="476.6" y="512.7" width="1009.6" height="304.0" rx="30" ry="30" fill="none" stroke="#979797" stroke-width="3.8"/><circle cx="1464.2" cy="619.6" r="2.6" fill="#e9e9e9"/><path d="M983.1,825.7 L1006.1,854.4 L994.8,854.4 L994.8,885.9 L971.4,885.9 L971.4,854.4 L959.4,854.4 Z" fill="#555" stroke="#4a4a4a" stroke-width="1"/><path d="M270.55,1005.8 v14.5 M489.36,1005.8 v14.5 M708.17,1005.8 v14.5 M926.98,1005.8 v14.5 M1145.79,1005.8 v14.5 M1364.60,1005.8 v14.5 M210.4,917.60 h-15.5 M210.4,711.50 h-15.5 M210.4,505.40 h-15.5 M210.4,299.30 h-15.5" stroke="#555" stroke-width="4.6" fill="none"/><rect x="210.4" y="124.2" width="1332.3" height="881.5999999999999" fill="none" stroke="#555" stroke-width="4.6"/><rect x="916.5" y="152.3" width="599" height="340.2" rx="9" ry="9" fill="#fff" fill-opacity="0.8" stroke="#dcdcdc" stroke-width="3"/><path d="M939.5,195.7 H1053.5" stroke="#ff0000" stroke-width="8.8" stroke-linecap="square"/><path d="M939.5,275.5 H1053.5" stroke="#ff7038" stroke-width="8.8" stroke-linecap="square"/><path d="M938.5,356.8 H1053.5" stroke="#008000" stroke-width="8.8" stroke-dasharray="30.34,13.12"/><path d="M938.5,437.6 H1053.5" stroke="#a33f00" stroke-width="8.8" stroke-dasharray="30.34,13.12"/><g font-family="'Liberation Serif','Times New Roman',serif" fill="#000" stroke="#000" stroke-width="0.5"><text x="1100" y="216.6" font-size="57.3">train loss</text><text x="1100" y="298.2" font-size="57.3">val loss</text><text x="1100" y="378.4" font-size="57.3">smooth train loss</text><text x="1100" y="458.9" font-size="57.3">smooth val loss</text><text transform="translate(271.35,1073.9) scale(1,1.06)" font-size="57.5" text-anchor="middle">0</text><text transform="translate(490.16,1073.9) scale(1,1.06)" font-size="57.5" text-anchor="middle">50</text><text transform="translate(708.97,1073.9) scale(1,1.06)" font-size="57.5" text-anchor="middle">100</text><text transform="translate(927.78,1073.9) scale(1,1.06)" font-size="57.5" text-anchor="middle">150</text><text transform="translate(1146.59,1073.9) scale(1,1.06)" font-size="57.5" text-anchor="middle">200</text><text transform="translate(1365.40,1073.9) scale(1,1.06)" font-size="57.5" text-anchor="middle">250</text><text transform="translate(181.5,937.40) scale(1,1.06)" font-size="57.5" text-anchor="end">0</text><text transform="translate(181.5,731.30) scale(1,1.06)" font-size="57.5" text-anchor="end">100</text><text transform="translate(181.5,525.20) scale(1,1.06)" font-size="57.5" text-anchor="end">200</text><text transform="translate(181.5,319.10) scale(1,1.06)" font-size="57.5" text-anchor="end">300</text><text transform="translate(879,1150.6) scale(1,1.02)" font-size="63.2" text-anchor="middle">Epoch</text><text transform="translate(64.6,564.3) rotate(-90) scale(1,1.09)" font-size="63" text-anchor="middle">Loss</text><text transform="translate(878.5,99.6) scale(1,1.035)" font-size="82" text-anchor="middle">A Loss Curve</text></g></svg>
</body></html>
